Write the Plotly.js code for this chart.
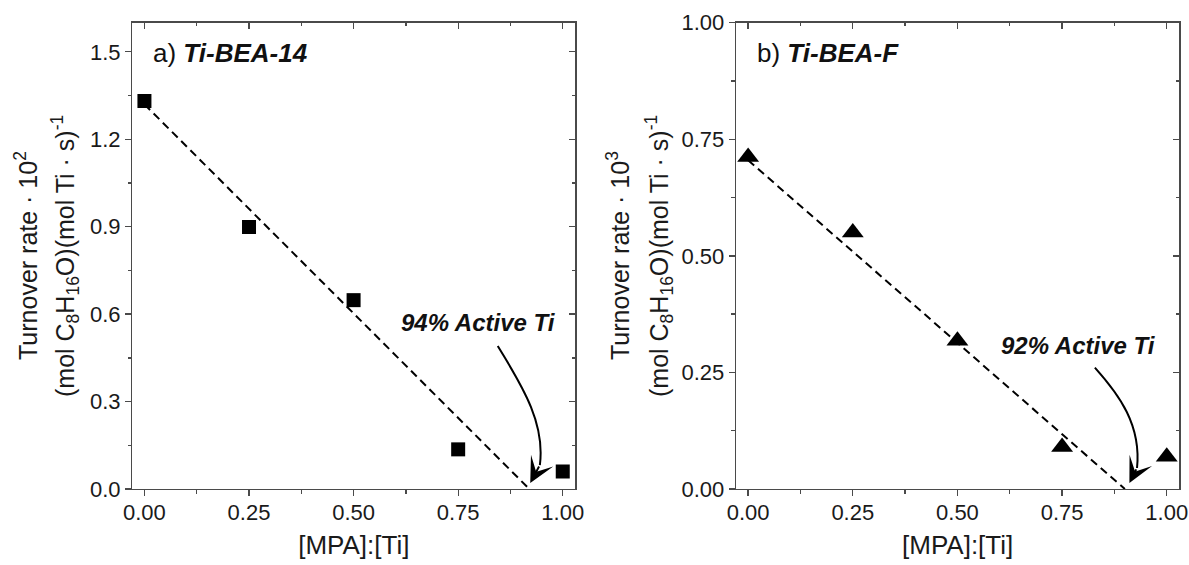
<!DOCTYPE html>
<html>
<head>
<meta charset="utf-8">
<script src="https://cdn.plot.ly/plotly-3.0.1.min.js"></script>
<style>
  html, body { margin: 0; padding: 0; background: #fff; }
  #chart { width: 1189px; height: 565px; }
</style>
</head>
<body>
<div id="chart"></div>
<script>
// ---- data ----
const mpaRatio = [0.00, 0.25, 0.50, 0.75, 1.00];
const torBEA14 = [1.331, 0.899, 0.648, 0.136, 0.060];   // x10^2
const torBEAF  = [0.712, 0.550, 0.318, 0.090, 0.069];   // x10^3
const fitBEA14X = [0.00, 0.92];
const fitBEA14Y = [1.32, 0.00];
const fitBEAFX  = [0.00, 0.90];
const fitBEAFY  = [0.705, 0.00];
const xTickVals = [0.00, 0.25, 0.50, 0.75, 1.00];
const yTickValsA = [0.0, 0.3, 0.6, 0.9, 1.2, 1.5];
const yTickValsB = [0.00, 0.25, 0.50, 0.75, 1.00];

const FONT = 'Liberation Sans, Arial, Helvetica, sans-serif';
const AXC = '#4a4a4a';
const TXT = '#1a1a1a';

const traces = [
  { x: fitBEA14X, y: fitBEA14Y, xaxis: 'x', yaxis: 'y', mode: 'lines',
    line: { color: '#000', width: 2, dash: '8px,5px' }, hoverinfo: 'skip' },
  { x: mpaRatio, y: torBEA14, xaxis: 'x', yaxis: 'y', mode: 'markers',
    marker: { symbol: 'square', size: 14, color: '#000' } },
  { x: fitBEAFX, y: fitBEAFY, xaxis: 'x2', yaxis: 'y2', mode: 'lines',
    line: { color: '#000', width: 2, dash: '8px,5px' }, hoverinfo: 'skip' },
  { x: mpaRatio, y: torBEAF, xaxis: 'x2', yaxis: 'y2', mode: 'markers',
    marker: { symbol: 'triangle-up', size: 19, color: '#000' } },
  // carriers for the inward-tick mirror axes
  { x: [null], y: [null], xaxis: 'x3', yaxis: 'y3', mode: 'markers', hoverinfo: 'skip' },
  { x: [null], y: [null], xaxis: 'x4', yaxis: 'y4', mode: 'markers', hoverinfo: 'skip' }
];

const dA = [132.3 / 1189, 575.3 / 1189];
const dB = [736 / 1189, 1179.3 / 1189];
const dY = [(565 - 489) / 565, (565 - 22.7) / 565];
const xr = [-0.029, 1.03];

function baseX(domain, anchor) {
  return {
    domain: domain, anchor: anchor, range: xr, tickvals: xTickVals, tickformat: '.2f',
    ticks: 'outside', ticklen: 6, tickwidth: 1.3, tickcolor: AXC,
    minor: { tickvals: [0.125, 0.375, 0.625, 0.875], ticks: 'outside', ticklen: 3.5, tickwidth: 1.3, tickcolor: AXC },
    showline: true, linecolor: AXC, linewidth: 1.3, mirror: true,
    showgrid: false, zeroline: false, ticklabelstandoff: -3,
    tickfont: { family: FONT, size: 22, color: TXT },
    title: { text: '[MPA]:[Ti]', font: { family: FONT, size: 26, color: TXT }, standoff: 12 }
  };
}
function baseY(domain, anchor, range, tv, fmt, minorVals) {
  return {
    domain: domain, anchor: anchor, range: range, tickvals: tv, tickformat: fmt,
    ticks: 'outside', ticklen: 6, tickwidth: 1.3, tickcolor: AXC,
    minor: { tickvals: minorVals, ticks: 'outside', ticklen: 3.5, tickwidth: 1.3, tickcolor: AXC },
    showline: true, linecolor: AXC, linewidth: 1.3, mirror: true,
    showgrid: false, zeroline: false,
    tickfont: { family: FONT, size: 22, color: TXT }
  };
}
function mirX(over, anchor) {
  return { overlaying: over, anchor: anchor, side: 'top', range: xr, tickvals: xTickVals,
    ticks: 'inside', ticklen: 6, tickwidth: 1.3, tickcolor: AXC, showticklabels: false,
    minor: { tickvals: [0.125, 0.375, 0.625, 0.875], ticks: 'inside', ticklen: 3.5, tickwidth: 1.3, tickcolor: AXC },
    showline: false, showgrid: false, zeroline: false };
}
function mirY(over, anchor, range, tv, minorVals) {
  return { overlaying: over, anchor: anchor, side: 'right', range: range, tickvals: tv,
    ticks: 'inside', ticklen: 6, tickwidth: 1.3, tickcolor: AXC, showticklabels: false,
    minor: { tickvals: minorVals, ticks: 'inside', ticklen: 3.5, tickwidth: 1.3, tickcolor: AXC },
    showline: false, showgrid: false, zeroline: false };
}

const minorA = [0.15, 0.45, 0.75, 1.05, 1.35];
const minorB = [0.125, 0.375, 0.625, 0.875];
const yTitle1A = 'Turnover rate · 10<sup>2</sup>';
const yTitle1B = 'Turnover rate · 10<sup>3</sup>';
const yTitle2  = '(mol C<sub>8</sub>H<sub>16</sub>O)(mol Ti · s)<sup>-1</sup>';

const annFont = { family: FONT, size: 24, color: '#111' };
const lblFont = { family: FONT, size: 26, color: '#111' };
const yTitleFont = { family: FONT, size: 25, color: TXT };
const yMid = 1 - 256 / 565;

function yTitleAnn(text, px) {
  return { xref: 'paper', yref: 'paper', x: px / 1189, y: yMid, xanchor: 'center', yanchor: 'middle',
    text: text, textangle: -90, showarrow: false, font: yTitleFont };
}

const layout = {
  width: 1189, height: 565,
  margin: { l: 0, r: 0, t: 0, b: 0 },
  paper_bgcolor: '#fff', plot_bgcolor: '#fff',
  showlegend: false,
  xaxis: baseX(dA, 'y'),
  yaxis: baseY(dY, 'x', [0, 1.6], yTickValsA, '.1f', minorA),
  xaxis2: baseX(dB, 'y2'),
  yaxis2: baseY(dY, 'x2', [0, 1.0], yTickValsB, '.2f', minorB),
  xaxis3: mirX('x', 'y3'),
  yaxis3: mirY('y', 'x3', [0, 1.6], yTickValsA, minorA),
  xaxis4: mirX('x2', 'y4'),
  yaxis4: mirY('y2', 'x4', [0, 1.0], yTickValsB, minorB),
  shapes: [
    { type: 'path', xref: 'x', yref: 'y',
      path: 'M0.8446,0.4906 C0.9099,0.3396 0.9577,0.2196 0.9453,0.0823',
      line: { color: '#000', width: 2 } },
    { type: 'path', xref: 'x2', yref: 'y2',
      path: 'M0.8283,0.2603 C0.8869,0.2016 0.9395,0.1373 0.9290,0.0450',
      line: { color: '#000', width: 2 } }
  ],
  annotations: [
    yTitleAnn(yTitle1A, 26), yTitleAnn(yTitle2, 65),
    yTitleAnn(yTitle1B, 618), yTitleAnn(yTitle2, 659),
    { xref: 'x', yref: 'y', x: 0.016, y: 1.496, xanchor: 'left', yanchor: 'middle',
      text: 'a) <b><i>Ti-BEA-14</i></b>', showarrow: false, font: lblFont },
    { xref: 'x2', yref: 'y2', x: 0.017, y: 0.935, xanchor: 'left', yanchor: 'middle',
      text: 'b) <b><i>Ti-BEA-F</i></b>', showarrow: false, font: lblFont },
    { xref: 'x', yref: 'y', x: 0.7976, y: 0.571, xanchor: 'center', yanchor: 'middle',
      text: '<b><i>94% Active Ti</i></b>', showarrow: false, font: annFont },
    { xref: 'x2', yref: 'y2', x: 0.788, y: 0.307, xanchor: 'center', yanchor: 'middle',
      text: '<b><i>92% Active Ti</i></b>', showarrow: false, font: annFont },
    { xref: 'x', yref: 'y', x: 0.9223, y: 0.0209, ax: 9.6, ay: -18, text: '',
      showarrow: true, arrowhead: 3, arrowsize: 2.1, arrowwidth: 2, arrowcolor: '#000', standoff: 0 },
    { xref: 'x2', yref: 'y2', x: 0.9108, y: 0.0131, ax: 7.6, ay: -15, text: '',
      showarrow: true, arrowhead: 3, arrowsize: 2.1, arrowwidth: 2, arrowcolor: '#000', standoff: 0 }
  ]
};

Plotly.newPlot('chart', traces, layout, { displayModeBar: false, staticPlot: true });
</script>
</body>
</html>
